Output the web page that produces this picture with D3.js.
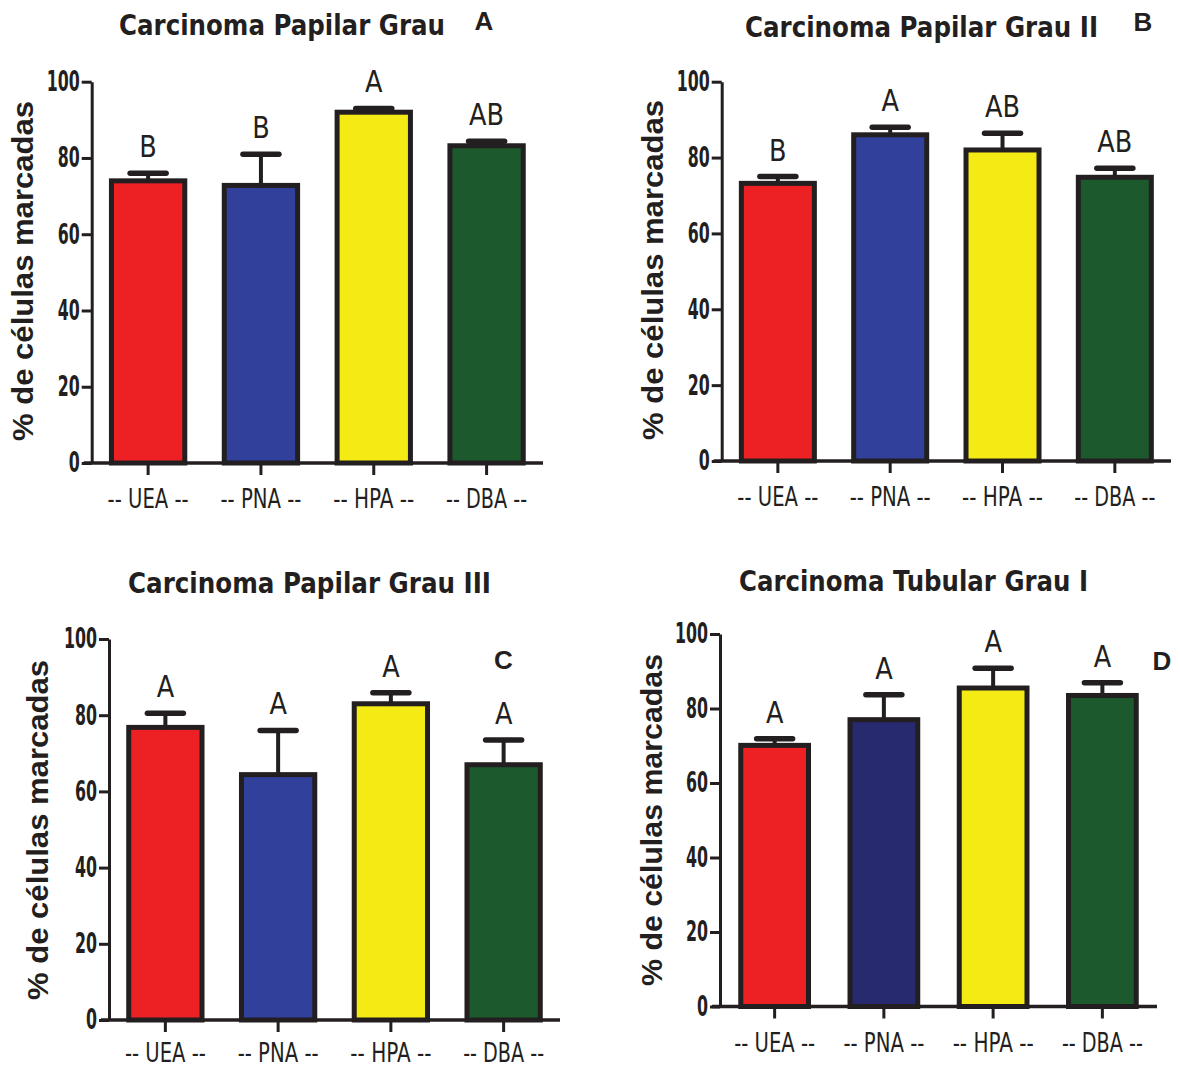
<!DOCTYPE html>
<html>
<head>
<meta charset="utf-8">
<script src="https://cdn.jsdelivr.net/npm/d3@7"></script>
<style>
  html, body { margin: 0; padding: 0; background: #fff; }
  svg { display: block; }
</style>
</head>
<body>
<div id="chart"></div>
<script>
// Categories and tick labels
const groups = ["-- UEA --", "-- PNA --", "-- HPA --", "-- DBA --"];
const yTicks = [0, 20, 40, 60, 80, 100];

// Titles and panel letters
const titles = ["Carcinoma Papilar Grau", "Carcinoma Papilar Grau II",
                "Carcinoma Papilar Grau III", "Carcinoma Tubular Grau I"];
const panelLetters = ["A", "B", "C", "D"];

// Means (% of labelled cells) and upper error (SEM) per panel
const meansA = [74, 72.8, 92, 83.2];
const errA   = [2, 8.2, 1, 1.2];
const meansB = [73.2, 86, 82, 74.8];
const errB   = [1.8, 2, 4.4, 2.4];
const meansC = [76.8, 64.4, 83, 67];
const errC   = [3.7, 11.6, 2.9, 6.5];
const meansD = [70.1, 77, 85.5, 83.5];
const errD   = [1.8, 6.7, 5.3, 3.4];

// Significance letters above each bar
const lettersA = ["B", "B", "A", "AB"];
const lettersB = ["B", "A", "AB", "AB"];
const lettersC = ["A", "A", "A", "A"];
const lettersD = ["A", "A", "A", "A"];

const coloursMain = ["#ed2024", "#31409a", "#f5eb14", "#1c5a2e"];
const coloursD    = ["#ed2024", "#272a6f", "#f5eb14", "#1c5a2e"];

const ink = "#231f20";
const narrow = "'Liberation Sans Narrow', 'DejaVu Sans Condensed', sans-serif";
const wide = "'Liberation Sans', Arial, sans-serif";

// Layout of each panel (pixel frame of the plot area)
const panels = [
  { means: meansA, err: errA, letters: lettersA, colours: coloursMain, title: titles[0], tag: panelLetters[0],
    x0: 91.7, x1: 543, y0: 463, y1: 81.7, pad: 0.35, xPad: 14,
    titleX: 282, titleY: 35, titleLen: 326, tagX: 484, tagY: 30, labX: 33, labY: 271, labLen: 340 },
  { means: meansB, err: errB, letters: lettersB, colours: coloursMain, title: titles[1], tag: panelLetters[1],
    x0: 721.7, x1: 1171, y0: 461, y1: 81.7, pad: 0.35, xPad: 14,
    titleX: 921.5, titleY: 37, titleLen: 353, tagX: 1143, tagY: 31, labX: 663, labY: 270, labLen: 340 },
  { means: meansC, err: errC, letters: lettersC, colours: coloursMain, title: titles[2], tag: panelLetters[2],
    x0: 109, x1: 560, y0: 1020, y1: 639, pad: 0.35, xPad: 11,
    titleX: 309.5, titleY: 593, titleLen: 363, tagX: 503.5, tagY: 669, labX: 48, labY: 830, labLen: 340 },
  { means: meansD, err: errD, letters: lettersD, colours: coloursD, title: titles[3], tag: panelLetters[3],
    x0: 720, x1: 1157, y0: 1006.5, y1: 634, pad: 0.38, xPad: 14,
    titleX: 913.5, titleY: 591, titleLen: 349, tagX: 1162, tagY: 670, labX: 662, labY: 820, labLen: 332 }
];

const svg = d3.select("#chart").append("svg")
    .attr("width", 1180)
    .attr("height", 1069);

panels.forEach(p => {
  const g = svg.append("g");

  const x = d3.scaleBand()
      .domain(groups)
      .range([p.x0, p.x1])
      .paddingInner(p.pad)
      .paddingOuter(p.pad / 2);

  const y = d3.scaleLinear()
      .domain([0, 100])
      .range([p.y0, p.y1]);

  const rows = groups.map((name, i) => ({
    name, mean: p.means[i], err: p.err[i], letter: p.letters[i], colour: p.colours[i]
  }));

  // Bars
  g.append("g").selectAll("rect")
    .data(rows)
    .join("rect")
      .attr("x", d => x(d.name))
      .attr("y", d => y(d.mean))
      .attr("width", x.bandwidth())
      .attr("height", d => y(0) - y(d.mean))
      .attr("fill", d => d.colour)
      .attr("stroke", ink)
      .attr("stroke-width", 5);

  // Error bars (upper only)
  const eb = g.append("g")
      .attr("stroke", ink)
      .attr("stroke-linecap", "round");

  eb.selectAll("line.stem")
    .data(rows)
    .join("line")
      .attr("class", "stem")
      .attr("x1", d => x(d.name) + x.bandwidth() / 2)
      .attr("x2", d => x(d.name) + x.bandwidth() / 2)
      .attr("y1", d => y(d.mean))
      .attr("y2", d => y(d.mean + d.err))
      .attr("stroke-width", 4);

  eb.selectAll("line.cap")
    .data(rows)
    .join("line")
      .attr("class", "cap")
      .attr("x1", d => x(d.name) + x.bandwidth() / 2 - 18)
      .attr("x2", d => x(d.name) + x.bandwidth() / 2 + 18)
      .attr("y1", d => y(d.mean + d.err))
      .attr("y2", d => y(d.mean + d.err))
      .attr("stroke-width", 5.5);

  // Significance letters
  g.append("g").selectAll("text")
    .data(rows)
    .join("text")
      .attr("x", d => x(d.name) + x.bandwidth() / 2)
      .attr("y", d => y(d.mean + d.err) - 16)
      .attr("text-anchor", "middle")
      .attr("font-family", narrow)
      .attr("font-size", 30)
      .attr("textLength", d => d.letter.length * 17.5)
      .attr("lengthAdjust", "spacingAndGlyphs")
      .attr("fill", ink)
      .text(d => d.letter);

  // Y axis
  const yAxis = g.append("g")
      .attr("transform", `translate(${p.x0},0)`)
      .call(d3.axisLeft(y).tickValues(yTicks).tickSize(10).tickSizeOuter(0).tickPadding(2));
  yAxis.select(".domain").attr("stroke", ink).attr("stroke-width", 3);
  yAxis.selectAll(".tick line").attr("stroke", ink).attr("stroke-width", 3);
  yAxis.selectAll(".tick text")
      .attr("fill", ink)
      .attr("font-family", narrow)
      .attr("font-weight", "bold")
      .attr("font-size", 28)
      .attr("textLength", d => String(d).length * 11)
      .attr("lengthAdjust", "spacingAndGlyphs");

  // X axis
  const xAxis = g.append("g")
      .attr("transform", `translate(0,${p.y0})`)
      .call(d3.axisBottom(x).tickSize(12).tickSizeOuter(0).tickPadding(p.xPad));
  xAxis.select(".domain")
      .attr("d", `M${p.x0 - 8},0H${p.x1}`)
      .attr("stroke", ink).attr("stroke-width", 3.5);
  xAxis.selectAll(".tick line").attr("stroke", ink).attr("stroke-width", 3);
  xAxis.selectAll(".tick text")
      .attr("fill", ink)
      .attr("font-family", narrow)
      .attr("font-size", 27)
      .attr("textLength", 81)
      .attr("lengthAdjust", "spacingAndGlyphs");

  // Y axis title
  g.append("text")
      .attr("transform", `translate(${p.labX},${p.labY}) rotate(-90)`)
      .attr("text-anchor", "middle")
      .attr("font-family", wide)
      .attr("font-weight", "bold")
      .attr("font-size", 29)
      .attr("textLength", p.labLen)
      .attr("lengthAdjust", "spacingAndGlyphs")
      .attr("fill", ink)
      .text("% de células marcadas");

  // Panel title
  g.append("text")
      .attr("x", p.titleX)
      .attr("y", p.titleY)
      .attr("text-anchor", "middle")
      .attr("font-family", narrow)
      .attr("font-weight", "bold")
      .attr("font-size", 29)
      .attr("textLength", p.titleLen)
      .attr("lengthAdjust", "spacingAndGlyphs")
      .attr("fill", ink)
      .text(p.title);

  // Panel letter
  g.append("text")
      .attr("x", p.tagX)
      .attr("y", p.tagY)
      .attr("text-anchor", "middle")
      .attr("font-family", wide)
      .attr("font-weight", "bold")
      .attr("font-size", 26)
      .attr("fill", ink)
      .text(p.tag);
});
</script>
</body>
</html>
